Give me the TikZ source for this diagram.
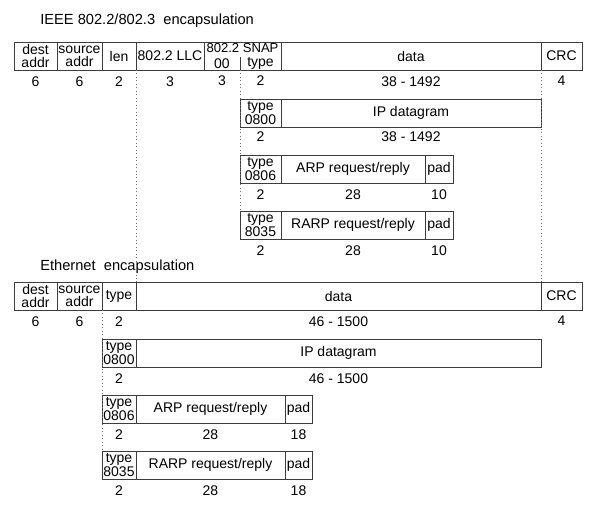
\documentclass[tikz,border=0pt]{standalone}
\usepackage{fontspec}
\setmainfont{Liberation Sans}
\usetikzlibrary{positioning}
\definecolor{framegray}{RGB}{60,60,60}
\definecolor{guidegray}{RGB}{110,110,110}

\begin{document}
\begin{tikzpicture}[x=0.75pt, y=-0.75pt,
  fld/.style={draw=framegray, line width=0.6pt, minimum height=21pt, inner sep=0pt, outer sep=0pt, align=center, font=\fontsize{10.5}{10}\selectfont},
  wd/.style={minimum width=0.75pt*#1},
  num/.style={inner sep=0pt, font=\fontsize{10.5}{12}\selectfont},
  ttl/.style={anchor=west, inner sep=0pt, font=\fontsize{11}{13}\selectfont},
  guide/.style={draw=guidegray, dotted, line width=0.6pt}
]
  \useasboundingbox (0,0) rectangle (600,506);

  \node[ttl] (ieeettl) at (40,21) {IEEE 802.2/802.3\ \ encapsulation};
  \node[fld, wd=43, anchor=west] (idest) at (14,56) {dest\\addr};
  \node[fld, wd=45, right=0pt of idest] (isrc) {source\\addr};
  \node[fld, wd=34, right=0pt of isrc] (ilen) {len};
  \node[fld, wd=68, right=0pt of ilen] (illc) {802.2 LLC};
  \node[fld, wd=77, right=0pt of illc] (isnap) {};
  \node[fld, wd=260, right=0pt of isnap] (idata) {data};
  \node[fld, wd=41, right=0pt of idata] (icrc) {CRC};
  \node[num, anchor=north, font=\fontsize{9.8}{12}\selectfont] (isnaptop) at ([yshift=-1.2pt]isnap.north) {802.2 SNAP};
  \node[num] (isnapoo) at (222,63.5) {00};
  \node[num] (isnaptype) at (260.5,63.5) {type};
  \draw[draw=framegray, line width=0.6pt] (isnap.south west) ++(36,0) -- ++(0,-13);
  \node[num, below=4.5pt of idest] (idestn) {6};
  \node[num, below=4.5pt of isrc] (isrcn) {6};
  \node[num, below=4.5pt of ilen] (ilenn) {2};
  \node[num, below=4.5pt of illc] (illcn) {3};
  \node[num] (isnapoon) at (222,81) {3};
  \node[num] (isnaptypen) at (260.5,81) {2};
  \node[num, below=4.5pt of idata] (idatan) {38 - 1492};
  \node[num, below=4.5pt of icrc] (icrcn) {4};

  \node[fld, wd=41, anchor=west] (iiptype) at (240,113) {type\\0800};
  \node[fld, wd=260, right=0pt of iiptype] (iipdata) {IP datagram};
  \node[num, below=3pt of iiptype] (iiptypen) {2};
  \node[num, below=3pt of iipdata] (iipdatan) {38 - 1492};

  \node[fld, wd=41, anchor=west] (iarptype) at (240,169) {type\\0806};
  \node[fld, wd=144, right=0pt of iarptype] (iarpmsg) {ARP request/reply};
  \node[fld, wd=28, right=0pt of iarpmsg] (iarppad) {pad};
  \node[num, below=4.5pt of iarptype] (iarptypen) {2};
  \node[num, below=4.5pt of iarpmsg] (iarpmsgn) {28};
  \node[num, below=4.5pt of iarppad] (iarppadn) {10};

  \node[fld, wd=41, anchor=west] (irarptype) at (240,225) {type\\8035};
  \node[fld, wd=144, right=0pt of irarptype] (irarpmsg) {RARP request/reply};
  \node[fld, wd=28, right=0pt of irarpmsg] (irarppad) {pad};
  \node[num, below=4.5pt of irarptype] (irarptypen) {2};
  \node[num, below=4.5pt of irarpmsg] (irarpmsgn) {28};
  \node[num, below=4.5pt of irarppad] (irarppadn) {10};

  \node[ttl] (ethttl) at (40,267) {Ethernet\ \ encapsulation};
  \node[fld, wd=43, anchor=west] (edest) at (14,296) {dest\\addr};
  \node[fld, wd=45, right=0pt of edest] (esrc) {source\\addr};
  \node[fld, wd=34, right=0pt of esrc] (etype) {type};
  \node[fld, wd=405, right=0pt of etype] (edata) {data};
  \node[fld, wd=41, right=0pt of edata] (ecrc) {CRC};
  \node[num, below=4.5pt of edest] (edestn) {6};
  \node[num, below=4.5pt of esrc] (esrcn) {6};
  \node[num, below=4.5pt of etype] (etypen) {2};
  \node[num, below=4.5pt of edata] (edatan) {46 - 1500};
  \node[num, below=4.5pt of ecrc] (ecrcn) {4};

  \node[fld, wd=34, anchor=west] (eiptype) at (102,353) {type\\0800};
  \node[fld, wd=405, right=0pt of eiptype] (eipdata) {IP datagram};
  \node[num, below=4.5pt of eiptype] (eiptypen) {2};
  \node[num, below=4.5pt of eipdata] (eipdatan) {46 - 1500};

  \node[fld, wd=34, anchor=west] (earptype) at (102,409) {type\\0806};
  \node[fld, wd=149, right=0pt of earptype] (earpmsg) {ARP request/reply};
  \node[fld, wd=27, right=0pt of earpmsg] (earppad) {pad};
  \node[num, below=4.5pt of earptype] (earptypen) {2};
  \node[num, below=4.5pt of earpmsg] (earpmsgn) {28};
  \node[num, below=4.5pt of earppad] (earppadn) {18};

  \node[fld, wd=34, anchor=west] (erarptype) at (102,465) {type\\8035};
  \node[fld, wd=149, right=0pt of erarptype] (erarpmsg) {RARP request/reply};
  \node[fld, wd=27, right=0pt of erarpmsg] (erarppad) {pad};
  \node[num, below=4.5pt of erarptype] (erarptypen) {2};
  \node[num, below=4.5pt of erarpmsg] (erarpmsgn) {28};
  \node[num, below=4.5pt of erarppad] (erarppadn) {18};

  \draw[guide] (illc.south west) -- (etype.north east);
  \draw[guide] (iiptype.north west |- isnap.south) -- (irarptype.north west);
  \draw[guide] (idata.south east) -- (edata.north east);
  \draw[guide] (esrc.south east) -- (erarptype.north west);
\end{tikzpicture}
\end{document}
